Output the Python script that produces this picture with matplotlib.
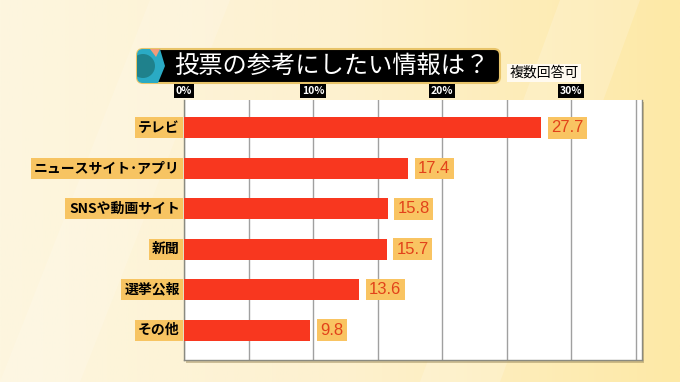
import numpy as np
import matplotlib
matplotlib.use("Agg")
import matplotlib.pyplot as plt
from matplotlib.patches import FancyBboxPatch, Polygon, Circle, Rectangle

plt.rcParams['font.family'] = ['Noto Sans CJK JP', 'DejaVu Sans']

# data
categories = ['テレビ', 'ニュースサイト･アプリ', 'SNSや動画サイト', '新聞', '選挙公報', 'その他']
values = [27.7, 17.4, 15.8, 15.7, 13.6, 9.8]
tick_vals = [0, 10, 20, 30]
tick_labels = ['0%', '10%', '20%', '30%']
title = '投票の参考にしたい情報は？'
note = '複数回答可'

W, H = 680, 382
fig = plt.figure(figsize=(W / 100, H / 100), dpi=100)

# background (pixel coordinates)
bg = fig.add_axes([0, 0, 1, 1])
bg.set_xlim(0, W)
bg.set_ylim(H, 0)
bg.axis('off')
grad = np.linspace(0, 1, 256)[None, :]
cmap = matplotlib.colors.LinearSegmentedColormap.from_list('bgc', ['#fdf6df', '#fdf1cf', '#fee9a6'])
bg.imshow(grad, extent=[0, W, H, 0], cmap=cmap, aspect='auto', zorder=0)
bg.add_patch(Polygon([[420, 382], [560, 0], [640, 0], [500, 382]], closed=True,
                     facecolor='white', alpha=0.18, lw=0, zorder=1))
bg.add_patch(Polygon([[0, 382], [150, 0], [230, 0], [80, 382]], closed=True,
                     facecolor='white', alpha=0.15, lw=0, zorder=1))

# title box
box = FancyBboxPatch((137, 49), 363, 34, boxstyle='round,pad=0,rounding_size=6',
                     facecolor='black', edgecolor='#e8c46a', lw=1.5, zorder=2)
bg.add_patch(box)
deco = Polygon([[137, 49], [160, 49], [165, 66], [158, 83], [137, 83]], closed=True,
               facecolor='#2aaac4', lw=0, zorder=3)
bg.add_patch(deco)
deco.set_clip_path(box)
circ = Circle((143, 66), 12, facecolor='#1e7d86', lw=0, zorder=3, alpha=0.9)
bg.add_patch(circ)
circ.set_clip_path(box)
tri = Polygon([[150, 49], [160, 49], [156, 57]], closed=True, facecolor='#f29b7a', lw=0, zorder=4)
bg.add_patch(tri)
bg.text(332, 66, title, color='white', fontsize=17.5, ha='center', va='center', zorder=5)
bg.text(544, 73, note, color='black', fontsize=10, ha='center', va='center', zorder=5,
        bbox=dict(boxstyle='square,pad=0.15', facecolor='#fffaf0', edgecolor='none'))

# shadow of plot area
bg.add_patch(Rectangle((186, 102), 458, 261, facecolor='#9c8a5a', alpha=0.5, lw=0, zorder=2))

# chart
ax = fig.add_axes([184 / W, (H - 360) / H, (642 - 184) / W, 260 / H])
ax.set_facecolor('white')
y = np.arange(len(categories))
ax.barh(y, values, height=0.52, color='#f8371f', zorder=3)
ax.set_xlim(0, 35.5)
ax.set_ylim(5.74, -0.69)

ax.xaxis.tick_top()
ax.set_xticks(tick_vals)
ax.set_xticklabels(tick_labels)
ax.set_xticks([5, 15, 25, 35], minor=True)
ax.tick_params(axis='x', which='both', length=0, pad=3, labelsize=7.5, labelcolor='white')
for lab in ax.get_xticklabels():
    lab.set_fontweight('bold')
    lab.set_bbox(dict(boxstyle='square,pad=0.2', facecolor='black', edgecolor='none'))
ax.grid(axis='x', which='both', color='#a0a0a0', lw=1, zorder=1)
ax.set_yticks([])
ax.spines['top'].set_visible(False)
for s in ['left', 'right', 'bottom']:
    ax.spines[s].set_color('#8a8a80')
    ax.spines[s].set_linewidth(1)

for i, (cat, v) in enumerate(zip(categories, values)):
    ax.annotate(cat, xy=(0, i), xytext=(-3, 0), textcoords='offset points',
                ha='right', va='center', fontsize=10, fontweight='bold', color='black',
                annotation_clip=False,
                bbox=dict(boxstyle='square,pad=0.25', facecolor='#f7c462', edgecolor='none'))
    ax.annotate(f'{v:.1f}', xy=(v, i), xytext=(7, 0), textcoords='offset points',
                ha='left', va='center', fontsize=12, color='#e2421a',
                family=['Liberation Sans', 'DejaVu Sans'], annotation_clip=False,
                bbox=dict(boxstyle='square,pad=0.2', facecolor='#f9c462', edgecolor='none'))

fig.savefig('out.png', dpi=100)
